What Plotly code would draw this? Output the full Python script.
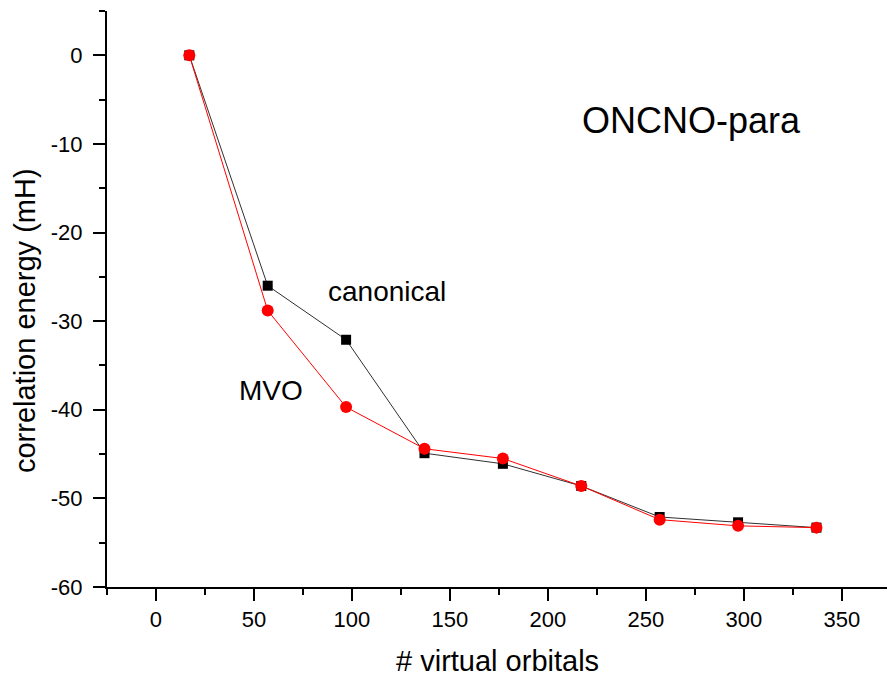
import plotly.graph_objects as go

# Number of virtual orbitals and correlation energies (mH)
n_virtual = [17, 57, 97, 137, 177, 217, 257, 297, 337]
canonical = [0.0, -26.0, -32.1, -44.9, -46.1, -48.6, -52.1, -52.7, -53.3]
mvo = [0.0, -28.8, -39.7, -44.4, -45.5, -48.6, -52.4, -53.1, -53.3]

x_ticks = [0, 50, 100, 150, 200, 250, 300, 350]
y_ticks = [0, -10, -20, -30, -40, -50, -60]
y_tick_text = ["0", "-10", "-20", "-30", "-40", "-50", "-60"]

FONT = "Liberation Sans, Arial, sans-serif"

fig = go.Figure()
fig.add_trace(go.Scatter(
    x=n_virtual, y=canonical, mode="lines+markers", name="canonical",
    line=dict(color="#303030", width=1),
    marker=dict(symbol="square", size=10, color="black"),
))
fig.add_trace(go.Scatter(
    x=n_virtual, y=mvo, mode="lines+markers", name="MVO",
    line=dict(color="#ff0000", width=1),
    marker=dict(symbol="circle", size=12, color="#ff0000"),
))

axis_common = dict(
    showgrid=False, zeroline=False, showline=True, linecolor="black", linewidth=2,
    ticks="outside", ticklen=12, tickwidth=2, tickcolor="black",
    tickfont=dict(family=FONT, size=22, color="black"),
    automargin=False,
)

fig.update_xaxes(
    range=[-25, 373], tickmode="array", tickvals=x_ticks,
    minor=dict(dtick=25, tick0=0, ticks="outside", ticklen=6, tickwidth=2, tickcolor="black"),
    **axis_common,
)
fig.update_yaxes(
    range=[-60, 5], tickmode="array", tickvals=y_ticks, ticktext=y_tick_text,
    minor=dict(dtick=5, tick0=0, ticks="outside", ticklen=6, tickwidth=2, tickcolor="black"),
    ticklabelstandoff=6,
    **axis_common,
)

# Axis titles
fig.add_annotation(xref="paper", yref="paper", x=0.5, y=-0.128, text="# virtual orbitals",
                   showarrow=False, xanchor="center", yanchor="middle",
                   font=dict(family=FONT, size=29, color="black"))
fig.add_annotation(xref="paper", yref="paper", x=-0.1051, y=0.4618, text="correlation energy (mH)",
                   showarrow=False, xanchor="center", yanchor="middle", textangle=-90,
                   font=dict(family=FONT, size=29, color="black"))

# Series labels and molecule name
fig.add_annotation(x=118, y=-26.7, text="canonical", showarrow=False,
                   font=dict(family=FONT, size=28, color="black"))
fig.add_annotation(x=58.7, y=-37.8, text="MVO", showarrow=False,
                   font=dict(family=FONT, size=28, color="black"))
fig.add_annotation(x=273, y=-7.4, text="ONCNO-para", showarrow=False,
                   font=dict(family=FONT, size=36, color="black"))

fig.update_layout(
    width=888, height=679,
    margin=dict(l=107, r=1, t=11, b=92),
    paper_bgcolor="white", plot_bgcolor="white",
    showlegend=False,
)

fig.write_html("out.html")
